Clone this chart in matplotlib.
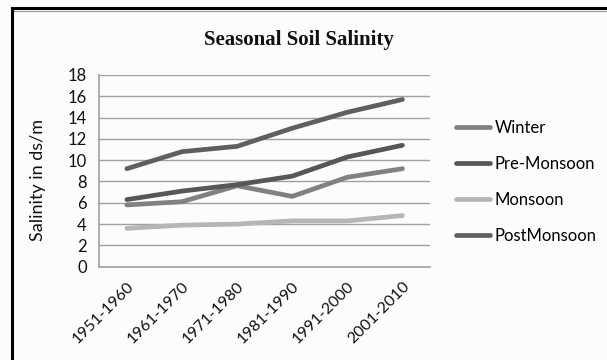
import numpy as np
import matplotlib.pyplot as plt
from matplotlib.lines import Line2D

periods = ["1951-1960", "1961-1970", "1971-1980", "1981-1990", "1991-2000", "2001-2010"]
winter = [5.8, 6.1, 7.6, 6.6, 8.4, 9.2]
pre_monsoon = [6.3, 7.1, 7.7, 8.5, 10.3, 11.4]
monsoon = [3.6, 3.9, 4.0, 4.3, 4.3, 4.8]
post_monsoon = [9.2, 10.8, 11.3, 13.0, 14.5, 15.7]

series = [("Winter", winter, "#818181"),
          ("Pre-Monsoon", pre_monsoon, "#575757"),
          ("Monsoon", monsoon, "#b6b6b6"),
          ("PostMonsoon", post_monsoon, "#5f5f5f")]

plt.rcParams['font.family'] = ['Lato', 'DejaVu Sans']

fig = plt.figure(figsize=(6.07, 3.6), dpi=100, facecolor='#fcfcfc')
ax = fig.add_axes([0.1636, 0.2592, 0.5448, 0.5325])
ax.set_facecolor('#fcfcfc')

x = np.arange(len(periods))
for name, vals, col in series:
    ax.plot(x, vals, color=col, lw=3.4, label=name, solid_capstyle='round')

ax.set_xlim(-0.5, len(periods) - 0.5)
ax.set_ylim(0, 18)
ax.set_yticks(range(0, 19, 2))
ax.yaxis.grid(True, color='#a0a0a0', lw=1.0)
ax.set_axisbelow(True)
ax.tick_params(axis='y', length=0, pad=9, labelsize=12, colors='#111111')
ax.tick_params(axis='x', length=0, pad=9, labelsize=11.5, colors='#111111')
ax.set_xticks(x)
ax.set_xticklabels(periods, rotation=45, ha='right', rotation_mode='anchor')
for s in ['top', 'right']:
    ax.spines[s].set_visible(False)
for s in ['left', 'bottom']:
    ax.spines[s].set_color('#a0a0a0')
    ax.spines[s].set_linewidth(1.2)

fig.text(0.492, 0.89, "Seasonal Soil Salinity", ha='center', va='center',
         fontsize=15, fontweight='bold', family='Liberation Serif', color='#111111')
fig.text(0.063, 0.50, "Salinity in ds/m", rotation=90, ha='center', va='center',
         fontsize=13, color='#111111')

ax.legend(loc='upper left', bbox_to_anchor=(0.752, 0.668), bbox_transform=fig.transFigure,
          frameon=False, fontsize=12, handlelength=2.0, handletextpad=0.3,
          labelspacing=1.2, borderaxespad=0, borderpad=0)

fig.add_artist(Line2D([12.5 / 607, 1], [1 - 8 / 360, 1 - 8 / 360], color='black', lw=2.2))
fig.add_artist(Line2D([12.5 / 607, 1], [1 - 10.5 / 360, 1 - 10.5 / 360], color='#999999', lw=0.8))
fig.add_artist(Line2D([12.5 / 607, 12.5 / 607], [0, 1 - 8 / 360], color='black', lw=2.2))

fig.savefig("out.png", dpi=100, facecolor=fig.get_facecolor())
